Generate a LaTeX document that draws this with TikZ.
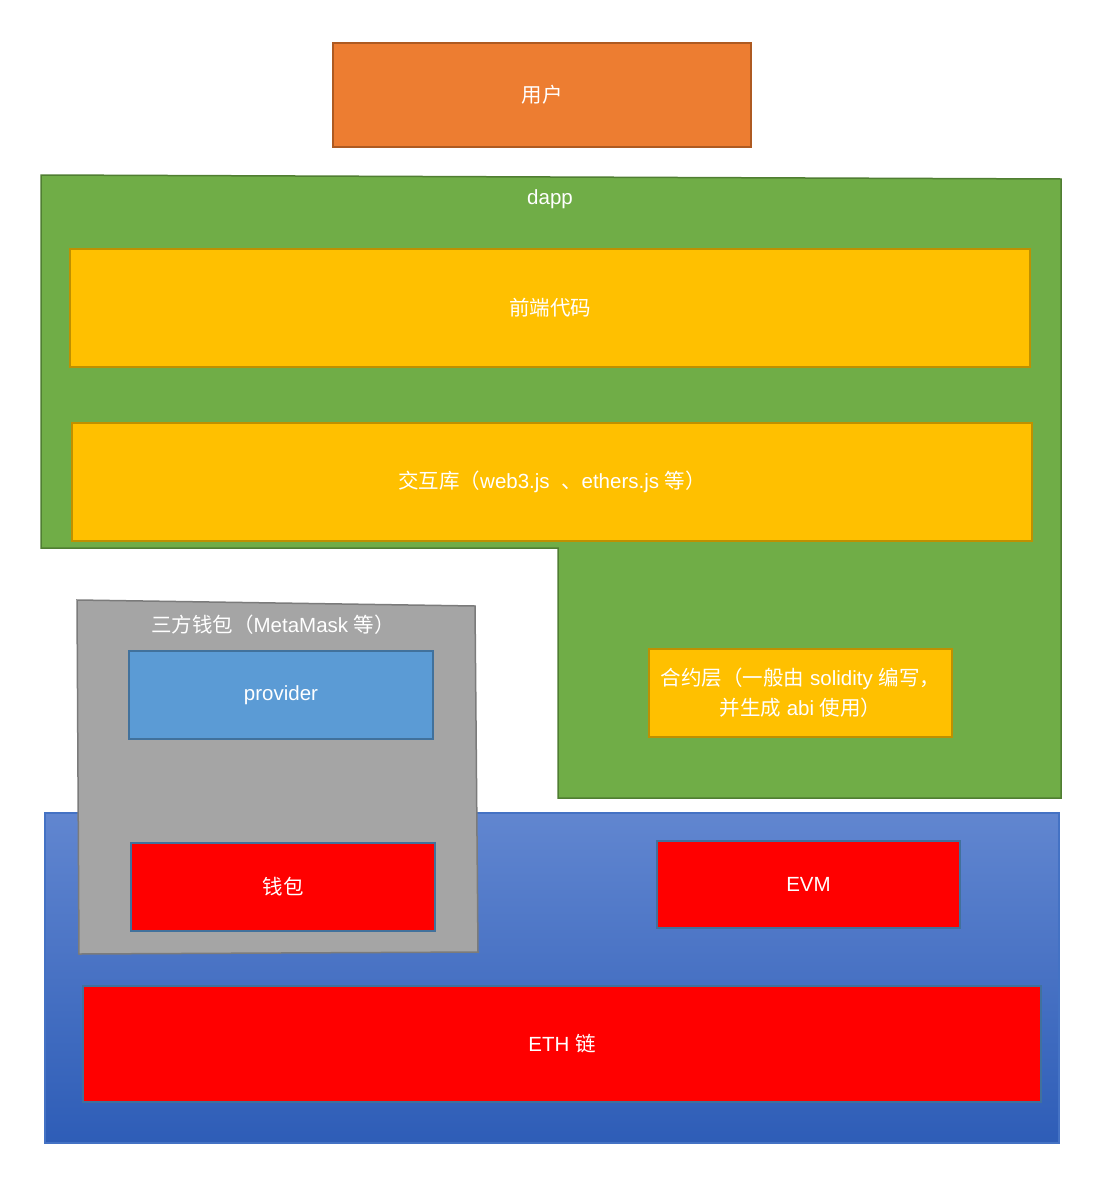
\documentclass[tikz,border=0pt]{standalone}
\usepackage{fontspec}
\setmainfont{Liberation Sans}
\newfontfamily\cjk{Noto Sans CJK SC}
\newcommand{\zh}[1]{{\cjk #1}}
\definecolor{orfill}{HTML}{ED7D31}
\definecolor{ordraw}{HTML}{AE5A21}
\definecolor{grfill}{HTML}{70AD47}
\definecolor{grdraw}{HTML}{507E32}
\definecolor{yefill}{HTML}{FFC000}
\definecolor{yedraw}{HTML}{BF9000}
\definecolor{bltop}{HTML}{6186D0}
\definecolor{blbot}{HTML}{2E5DB7}
\definecolor{bldraw}{HTML}{4472C4}
\definecolor{gyfill}{HTML}{A5A5A5}
\definecolor{gydraw}{HTML}{7B7B7B}
\definecolor{prfill}{HTML}{5B9BD5}
\definecolor{prdraw}{HTML}{41719C}
\definecolor{rdfill}{HTML}{FF0000}
\tikzset{
  lbl/.style={text=white, font=\fontsize{20.5}{30}\selectfont, inner sep=0pt, align=center},
  box/.style={lbl, draw, line width=1.5pt, rectangle},
  orbox/.style={box, fill=orfill, draw=ordraw},
  yebox/.style={box, fill=yefill, draw=yedraw},
  prbox/.style={box, fill=prfill, draw=prdraw},
  rdbox/.style={box, fill=rdfill, draw=prdraw},
}
\begin{document}
\begin{tikzpicture}[x=1pt,y=-1pt]
\useasboundingbox (0,0) rectangle (1112,1194);
% user
\node[orbox, minimum width=418pt, minimum height=104pt] (user) at (542,95) {\zh{用户}};
% dapp green region
\path[fill=grfill, draw=grdraw, line width=1.5pt]
  (41,175) -- (1061,179) -- (1061,798) -- (558,798) -- (558,548) -- (41,548) -- cycle;
\node[lbl] (dapp) at (550,199.5) {dapp};
\node[yebox, minimum width=960pt, minimum height=118pt] (front) at (550,308) {\zh{前端代码}};
\node[yebox, minimum width=960pt, minimum height=118pt] (lib) at (552,482) {\zh{交互库（}web3.js \ \zh{、}ethers.js \zh{等）}};
\node[yebox, minimum width=303pt, minimum height=88pt] (contract) at (800.5,693)
  {\zh{合约层（一般由} solidity \zh{编写，}\\\zh{并生成} abi \zh{使用）}};
% chain region
\path[top color=bltop, bottom color=blbot, draw=bldraw, line width=1.5pt]
  (45,813) rectangle (1059,1143);
% wallet region
\path[fill=gyfill, draw=gydraw, line width=1.5pt]
  (77,600) -- (475,606) -- (478,952) -- (79,954) -- cycle;
\node[lbl] (walletsys) at (273,625) {\zh{三方钱包（}MetaMask \zh{等）}};
\node[prbox, minimum width=304pt, minimum height=88pt] (provider) at (281,695) {provider};
\node[rdbox, minimum width=304pt, minimum height=88pt] (wallet) at (283,887) {\zh{钱包}};
\node[rdbox, minimum width=303pt, minimum height=87pt] (evm) at (808.5,884.5) {EVM};
\node[rdbox, minimum width=958pt, minimum height=116pt] (eth) at (562,1044) {ETH \zh{链}};
\end{tikzpicture}
\end{document}
